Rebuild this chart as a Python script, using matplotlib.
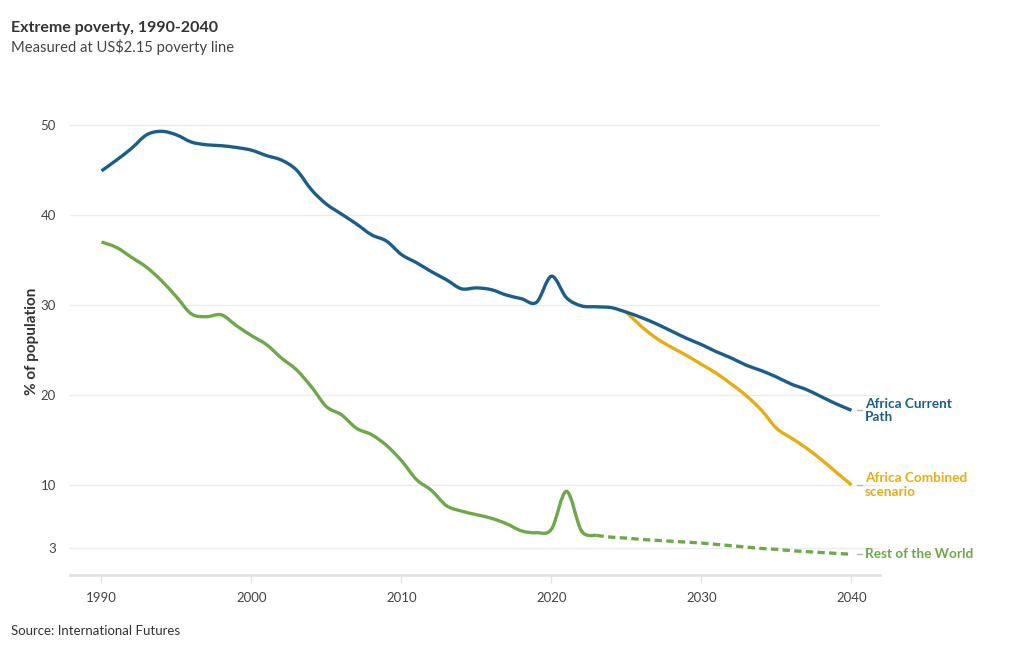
import numpy as np
import matplotlib
matplotlib.use("Agg")
import matplotlib.pyplot as plt
from matplotlib.path import Path
from matplotlib.patches import PathPatch

plt.rcParams['font.family'] = ['Lato', 'DejaVu Sans']

years = list(range(1990, 2041))

# Africa Current Path, 1990-2040
africa_cp = [44.9, 46.1, 47.4, 48.9, 49.3, 48.9, 48.1, 47.8, 47.7, 47.5,
             47.2, 46.6, 46.1, 45.0, 42.8, 41.2, 40.1, 39.0, 37.8, 37.1,
             35.6, 34.7, 33.7, 32.8, 31.8, 31.9, 31.7, 31.1, 30.7, 30.3,
             33.2, 30.8, 29.9, 29.8, 29.7, 29.2, 28.6, 27.9, 27.1, 26.3,
             25.6, 24.8, 24.1, 23.3, 22.7, 22.0, 21.2, 20.6, 19.8, 19.0,
             18.3]

# Africa Combined scenario, 2025-2040
combined_years = list(range(2025, 2041))
africa_comb = [29.2, 27.6, 26.3, 25.3, 24.4, 23.4, 22.4, 21.2, 19.9, 18.3,
               16.3, 15.2, 14.1, 12.8, 11.4, 10.0]

# Rest of the World, 1990-2040
rest_world = [37.0, 36.4, 35.3, 34.2, 32.7, 30.9, 29.0, 28.7, 28.9, 27.7,
              26.6, 25.6, 24.1, 22.8, 20.9, 18.7, 17.8, 16.3, 15.6, 14.4,
              12.7, 10.6, 9.4, 7.7, 7.1, 6.7, 6.3, 5.7, 4.9, 4.7,
              5.1, 9.3, 4.9, 4.4, 4.2, 4.1, 3.95, 3.85, 3.75, 3.65,
              3.55, 3.4, 3.25, 3.1, 2.95, 2.85, 2.7, 2.6, 2.5, 2.4,
              2.3]
forecast_start = 2023

yticks = [3, 10, 20, 30, 40, 50]
xticks = [1990, 2000, 2010, 2020, 2030, 2040]

blue = '#1b5e8a'
orange = '#e9ac12'
green = '#6fa84a'
grid_c = '#ebebeb'
text_c = '#444444'


def smooth_line(ax, x, y, **kw):
    # catmull-rom through the data points, drawn as bezier segments
    x = np.asarray(x, float)
    y = np.asarray(y, float)
    pts = np.column_stack([x, y])
    ext = np.vstack([pts[0], pts, pts[-1]])
    verts = [pts[0]]
    codes = [Path.MOVETO]
    for i in range(len(pts) - 1):
        p0, p1, p2, p3 = ext[i], ext[i + 1], ext[i + 2], ext[i + 3]
        c1 = p1 + (p2 - p0) / 6.0
        c2 = p2 - (p3 - p1) / 6.0
        verts += [c1, c2, p2]
        codes += [Path.CURVE4] * 3
    patch = PathPatch(Path(verts, codes), fill=False, **kw)
    ax.add_patch(patch)
    return patch


fig = plt.figure(figsize=(10.2, 6.5), dpi=100)
ax = fig.add_axes([70 / 1020, 1 - 575 / 650, 810 / 1020, 468 / 650])

smooth_line(ax, years, africa_cp, edgecolor=blue, lw=2.4, capstyle='butt', zorder=4)
smooth_line(ax, combined_years, africa_comb, edgecolor=orange, lw=2.4, capstyle='butt', zorder=3)

i0 = years.index(forecast_start)
smooth_line(ax, years[:i0 + 1], rest_world[:i0 + 1], edgecolor=green, lw=2.4, capstyle='butt', zorder=3)
smooth_line(ax, years[i0:], rest_world[i0:], edgecolor=green, lw=2.4, ls=(0, (2.2, 1.3)), zorder=3)

ax.set_xlim(1987.9, 2041.9)
ax.set_ylim(0, 52)
ax.set_yticks(yticks)
ax.set_yticklabels([str(v) for v in yticks])
ax.set_xticks(xticks)
ax.set_xticklabels([str(v) for v in xticks])
ax.grid(axis='y', color=grid_c, lw=1)
ax.set_axisbelow(True)
for s in ['top', 'right', 'left']:
    ax.spines[s].set_visible(False)
ax.spines['bottom'].set_color('#e3e3e3')
ax.spines['bottom'].set_linewidth(2)
ax.tick_params(axis='y', length=0, pad=10, labelsize=9.5, labelcolor=text_c)
ax.tick_params(axis='x', length=6, width=1, color='#e3e3e3', pad=6, labelsize=9.5, labelcolor=text_c)
ax.set_ylabel('% of population', fontsize=11, fontweight='bold', color='#333333', labelpad=1)

# end labels
ends = [(africa_cp[-1], 'Africa Current\nPath', blue),
        (africa_comb[-1], 'Africa Combined\nscenario', orange),
        (rest_world[-1], 'Rest of the World', green)]
for val, lab, c in ends:
    ax.plot([2040.4, 2040.7], [val, val], color='#bbbbbb', lw=1, clip_on=False)
    ax.text(2040.9, val, lab, color=c, fontsize=9.8, fontweight='bold',
            va='center', ha='left', linespacing=1.1, clip_on=False)

fig.text(11 / 1020, 1 - 28 / 650, 'Extreme poverty, 1990-2040', fontsize=11.5, fontweight='bold',
         color='#333333', va='center')
fig.text(11 / 1020, 1 - 47 / 650, 'Measured at US$2.15 poverty line', fontsize=10.6,
         color='#444444', va='center')
fig.text(11 / 1020, 1 - 631 / 650, 'Source: International Futures', fontsize=9.5,
         color='#333333', va='center')

fig.savefig('out.png', dpi=100)
